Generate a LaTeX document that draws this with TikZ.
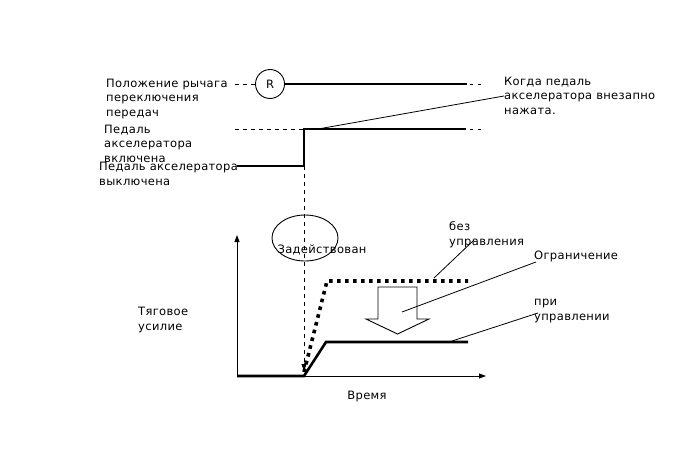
\documentclass[tikz,border=0pt]{standalone}
\usepackage{fontspec}
\setmainfont{DejaVu Sans}[LetterSpace=3]
\usetikzlibrary{arrows.meta, shapes.geometric}

\begin{document}
\begin{tikzpicture}[x=1pt, y=-1pt,
  txt/.style={font=\fontsize{11.5}{14.4}\selectfont, align=left, anchor=base west, inner sep=0pt},
  thk/.style={line width=2.6pt},
  lead/.style={line width=0.8pt},
  dsh/.style={line width=0.9pt, dash pattern=on 4pt off 4pt},
  dots/.style={line width=3.6pt, dash pattern=on 3.6pt off 4.4pt},
  ax/.style={line width=0.9pt, -{Triangle[length=7pt, width=5pt]}}]
\useasboundingbox (0,0) rectangle (688,463);
% labels (base = last line)
\node[txt] (lever) at (106,116) {Положение рычага\\переключения\\передач};
\node[txt] (sudden) at (504,114) {Когда педаль\\акселератора внезапно\\нажата.};
\node[txt] (pedon) at (104,162) {Педаль\\акселератора\\включена};
\node[txt] (pedoff) at (99,185) {Педаль акселератора\\выключена};
\node[txt] (none) at (449,245) {без\\управления};
\node[txt] (limit) at (534,259) {Ограничение};
\node[txt] (ctrl) at (534,320) {при\\управлении};
\node[txt] (force) at (138,330) {Тяговое\\усилие};
\node[txt, anchor=base] (time) at (367,399) {Время};
% gear lever line
\node[draw, circle, line width=0.9pt, minimum size=29pt, inner sep=0pt,
  font=\fontsize{11.5}{14}\selectfont] (R) at (270,84) {R};
\coordinate (g0) at (235,84);
\coordinate (g1) at (467,84);
\coordinate (g2) at (470,84);
\coordinate (g3) at (482,84);
\draw[dsh] (g0) -- (R.west);
\draw[thk] (R.east) -- (g1);
\draw[dsh, dash pattern=on 3pt off 5pt] (g2) -- (g3);
% accelerator pedal
\coordinate (p0) at (235,129);
\coordinate (p1) at (304,129);
\coordinate (p2) at (318,129);
\coordinate (p3) at (466,129);
\coordinate (p4) at (470,129);
\coordinate (p5) at (484,129);
\coordinate (q0) at (237,166);
\coordinate (q1) at (304,166);
\draw[dsh] (p0) -- (p1);
\draw[thk] (q0) -- (q1) -- (p1) -- (p3);
\draw[dsh, dash pattern=on 3pt off 5pt] (p4) -- (p5);
\draw[lead] (p2) -- (sudden.west |- 0,96);
% engaged
\node[draw, ellipse, line width=0.9pt, minimum width=66pt, minimum height=46pt] (eng) at (305,238) {};
\node[font=\fontsize{11.5}{14}\selectfont, inner sep=0pt] (engt) at (322,250) {Задействован};
\coordinate (v1) at (304,371);
\draw[dsh, -{Triangle[length=7pt, width=5pt]}] (q1) -- (v1);
% axes
\coordinate (o) at (237,376);
\coordinate (ytop) at (237,235);
\coordinate (xend) at (486,376);
\draw[ax] (o) -- (ytop);
\draw[ax] (o) -- (xend);
% traction curves
\coordinate (c0) at (304,376);
\coordinate (c1) at (326,342);
\coordinate (c2) at (468,342);
\coordinate (d0) at (304,372);
\coordinate (d1) at (327,281);
\coordinate (d2) at (468,281);
\draw[thk] (o) -- (c0) -- (c1) -- (c2);
\draw[dots] (d0) -- (d1) -- (d2);
% limiting arrow
\draw[line width=0.9pt] (378,287) -- (417,287) -- (417,319) -- (429,319)
  -- (397.5,334) -- (366,319) -- (378,319) -- cycle;
% leaders
\draw[lead] (434,278) -- (474,240);
\draw[lead] (402,312) -- (536,262);
\draw[lead] (452,341) -- (538,313);
\end{tikzpicture}
\end{document}
